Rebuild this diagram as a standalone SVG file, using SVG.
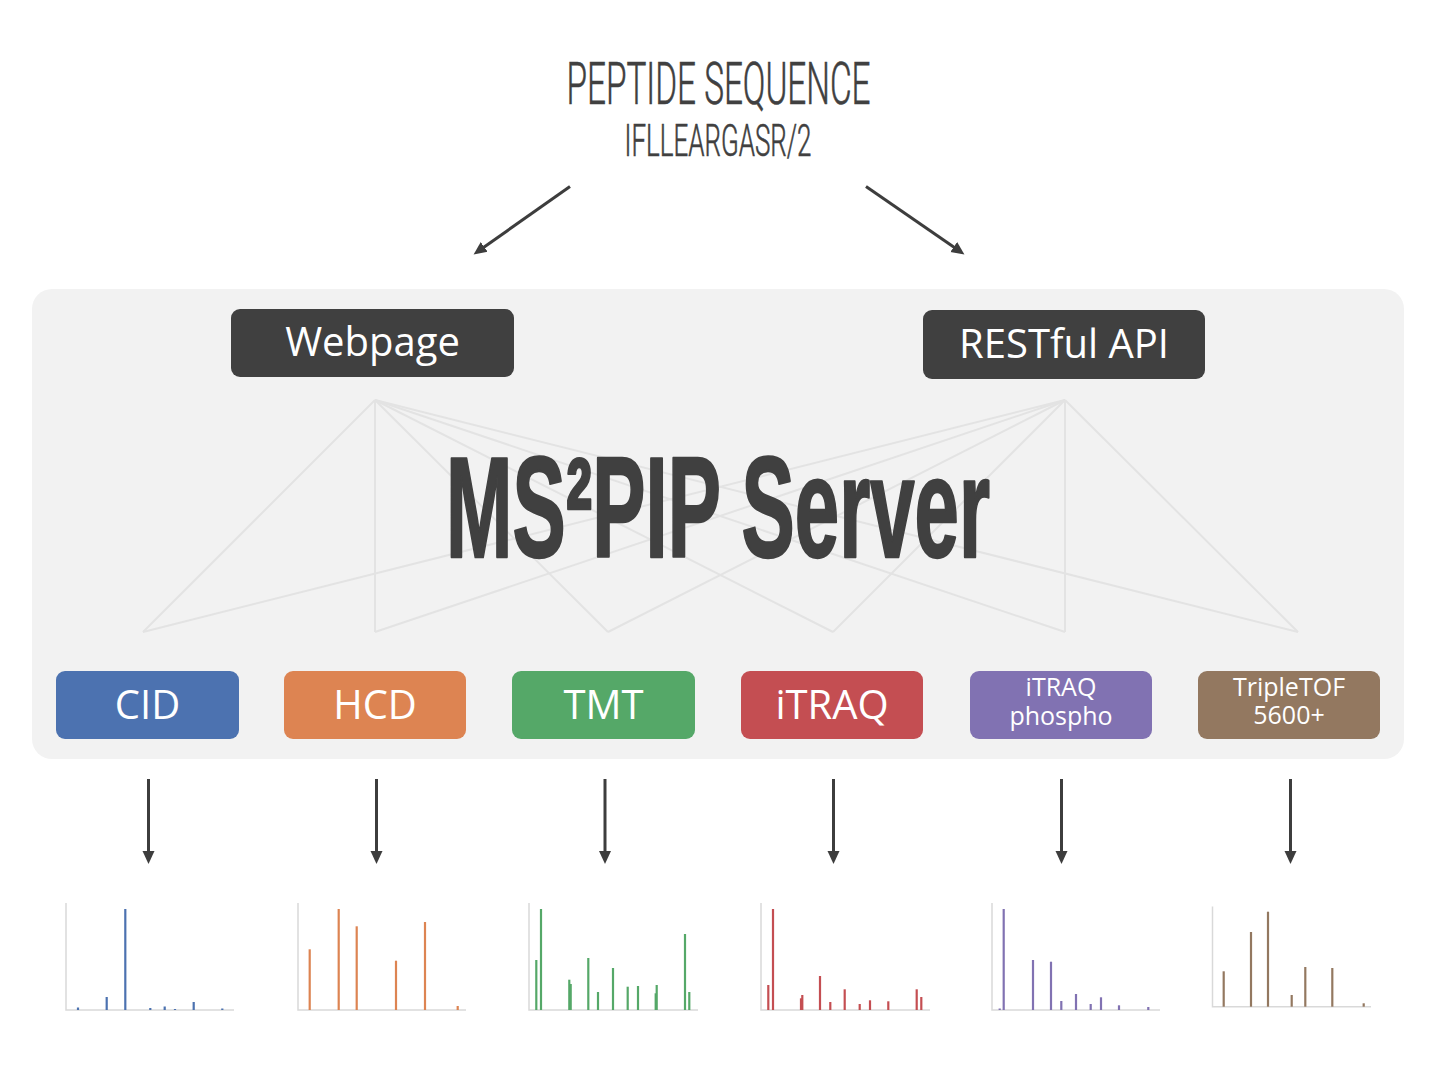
<svg xmlns="http://www.w3.org/2000/svg" width="1436" height="1079" viewBox="0 0 1436 1079">
  <style>
    .title { font-family: Roboto, "Liberation Sans", sans-serif; font-weight: 300; fill: #404040; stroke: #404040; stroke-width: 0.6; text-anchor: middle; }
    .server { font-family: "Liberation Sans", Arial, sans-serif; font-weight: 700; fill: #404040; stroke: #404040; stroke-width: 2.5; stroke-linejoin: round; text-anchor: middle; }
    .dark { fill: #404040; }
    .lbl { font-family: "Open Sans", "Liberation Sans", sans-serif; fill: #ffffff; text-anchor: middle; }
    .big { font-size: 40px; }
    .small { font-size: 25px; }
    .fan { stroke: #e3e3e3; stroke-width: 2; fill: none; }
    .arrow { stroke: #3d3d3d; stroke-width: 3; fill: none; marker-end: url(#head); }
    .axis { stroke: #d9d9d9; stroke-width: 1.5; fill: none; }
    .pk { stroke-width: 2.2; }
  </style>
  <defs>
    <marker id="head" markerUnits="userSpaceOnUse" markerWidth="14" markerHeight="14" viewBox="0 0 14 14" refX="7" refY="7" orient="auto">
      <path d="M0,1 L13,7 L0,13 z" fill="#3d3d3d"/>
    </marker>
  </defs>

  <rect id="panel" x="32" y="289" width="1372" height="470" rx="20" ry="20" fill="#f2f2f2"/>

  <g id="connectors">
    <g id="fan">
      <line class="fan" x1="375" y1="400" x2="143" y2="632"/>
      <line class="fan" x1="375" y1="400" x2="375" y2="632"/>
      <line class="fan" x1="375" y1="400" x2="608" y2="632"/>
      <line class="fan" x1="375" y1="400" x2="833" y2="632"/>
      <line class="fan" x1="375" y1="400" x2="1065" y2="632"/>
      <line class="fan" x1="375" y1="400" x2="1298" y2="632"/>
      <line class="fan" x1="1065" y1="400" x2="143" y2="632"/>
      <line class="fan" x1="1065" y1="400" x2="375" y2="632"/>
      <line class="fan" x1="1065" y1="400" x2="608" y2="632"/>
      <line class="fan" x1="1065" y1="400" x2="833" y2="632"/>
      <line class="fan" x1="1065" y1="400" x2="1065" y2="632"/>
      <line class="fan" x1="1065" y1="400" x2="1298" y2="632"/>
    </g>
    <line class="arrow" x1="570" y1="186.5" x2="478.5" y2="251"/>
    <line class="arrow" x1="866" y1="186.5" x2="959.5" y2="251"/>
    <line class="arrow" x1="148.5" y1="779" x2="148.5" y2="858"/>
    <line class="arrow" x1="376.5" y1="779" x2="376.5" y2="858"/>
    <line class="arrow" x1="605" y1="779" x2="605" y2="858"/>
    <line class="arrow" x1="833.5" y1="779" x2="833.5" y2="858"/>
    <line class="arrow" x1="1061.5" y1="779" x2="1061.5" y2="858"/>
    <line class="arrow" x1="1290.5" y1="779" x2="1290.5" y2="858"/>
  </g>

  <g id="title">
    <text class="title" x="718.5" y="103.5" font-size="60" textLength="304" lengthAdjust="spacingAndGlyphs">PEPTIDE SEQUENCE</text>
    <text class="title" x="718" y="155.5" font-size="45" textLength="187" lengthAdjust="spacingAndGlyphs">IFLLEARGASR/2</text>
  </g>

  <g id="server">
    <text class="server" x="718" y="557" font-size="142" textLength="544" lengthAdjust="spacingAndGlyphs">MS²PIP Server</text>
  </g>

  <g id="webpage">
    <rect class="dark" x="231" y="309" width="283" height="68" rx="9"/>
    <text class="lbl big" x="372.5" y="356">Webpage</text>
  </g>
  <g id="restful-api">
    <rect class="dark" x="923" y="310" width="282" height="69" rx="9"/>
    <text class="lbl big" x="1064" y="358">RESTful API</text>
  </g>

  <g id="cid">
    <rect x="56" y="671" width="183" height="68" rx="9" fill="#4c72b0"/>
    <text class="lbl big" x="147.5" y="719">CID</text>
  </g>
  <g id="hcd">
    <rect x="284" y="671" width="182" height="68" rx="9" fill="#dd8452"/>
    <text class="lbl big" x="375" y="719">HCD</text>
  </g>
  <g id="tmt">
    <rect x="512" y="671" width="183" height="68" rx="9" fill="#55a868"/>
    <text class="lbl big" x="603.5" y="719">TMT</text>
  </g>
  <g id="itraq">
    <rect x="741" y="671" width="182" height="68" rx="9" fill="#c44e52"/>
    <text class="lbl big" x="832" y="719">iTRAQ</text>
  </g>
  <g id="itraq-phospho">
    <rect x="970" y="671" width="182" height="68" rx="9" fill="#8172b2"/>
    <text class="lbl small"><tspan x="1061" y="696">iTRAQ</tspan><tspan x="1061" y="725">phospho</tspan></text>
  </g>
  <g id="tripletof">
    <rect x="1198" y="671" width="182" height="68" rx="9" fill="#937860"/>
    <text class="lbl small"><tspan x="1289" y="696">TripleTOF</tspan><tspan x="1289" y="724">5600+</tspan></text>
  </g>

  <g id="spectrum-cid" stroke="#4c72b0">
    <polyline class="axis" points="66,903 66,1010 234,1010"/>
    <line class="pk" x1="78" y1="1007.5" x2="78" y2="1010"/>
    <line class="pk" x1="106.7" y1="997" x2="106.7" y2="1010"/>
    <line class="pk" x1="125.3" y1="909" x2="125.3" y2="1010"/>
    <line class="pk" x1="150.3" y1="1008" x2="150.3" y2="1010"/>
    <line class="pk" x1="164.7" y1="1006.5" x2="164.7" y2="1010"/>
    <line class="pk" x1="175" y1="1009" x2="175" y2="1010"/>
    <line class="pk" x1="193.7" y1="1002" x2="193.7" y2="1010"/>
    <line class="pk" x1="222.3" y1="1008.5" x2="222.3" y2="1010"/>
  </g>
  <g id="spectrum-hcd" stroke="#dd8452">
    <polyline class="axis" points="298,903 298,1010 466,1010"/>
    <line class="pk" x1="309.7" y1="949.3" x2="309.7" y2="1010"/>
    <line class="pk" x1="338.7" y1="909" x2="338.7" y2="1010"/>
    <line class="pk" x1="356.7" y1="926.3" x2="356.7" y2="1010"/>
    <line class="pk" x1="396" y1="960.7" x2="396" y2="1010"/>
    <line class="pk" x1="425" y1="922" x2="425" y2="1010"/>
    <line class="pk" x1="457.7" y1="1006" x2="457.7" y2="1010"/>
  </g>
  <g id="spectrum-tmt" stroke="#55a868">
    <polyline class="axis" points="529,903 529,1010 698,1010"/>
    <line class="pk" x1="536.3" y1="960" x2="536.3" y2="1010"/>
    <line class="pk" x1="541" y1="909" x2="541" y2="1010"/>
    <line class="pk" x1="569.3" y1="979.7" x2="569.3" y2="1010"/>
    <line class="pk" x1="570.7" y1="984" x2="570.7" y2="1010"/>
    <line class="pk" x1="588.3" y1="958" x2="588.3" y2="1010"/>
    <line class="pk" x1="598" y1="992" x2="598" y2="1010"/>
    <line class="pk" x1="613" y1="968" x2="613" y2="1010"/>
    <line class="pk" x1="627.7" y1="986.7" x2="627.7" y2="1010"/>
    <line class="pk" x1="638" y1="986" x2="638" y2="1010"/>
    <line class="pk" x1="655.7" y1="993.3" x2="655.7" y2="1010"/>
    <line class="pk" x1="656.7" y1="985" x2="656.7" y2="1010"/>
    <line class="pk" x1="685" y1="934" x2="685" y2="1010"/>
    <line class="pk" x1="689.3" y1="992" x2="689.3" y2="1010"/>
  </g>
  <g id="spectrum-itraq" stroke="#c44e52">
    <polyline class="axis" points="761,903 761,1010 930,1010"/>
    <line class="pk" x1="768.3" y1="985" x2="768.3" y2="1010"/>
    <line class="pk" x1="773" y1="909" x2="773" y2="1010"/>
    <line class="pk" x1="801" y1="998.3" x2="801" y2="1010"/>
    <line class="pk" x1="802.3" y1="995" x2="802.3" y2="1010"/>
    <line class="pk" x1="820" y1="976" x2="820" y2="1010"/>
    <line class="pk" x1="830.3" y1="1002" x2="830.3" y2="1010"/>
    <line class="pk" x1="844.7" y1="989.3" x2="844.7" y2="1010"/>
    <line class="pk" x1="859.7" y1="1004" x2="859.7" y2="1010"/>
    <line class="pk" x1="870" y1="1000.3" x2="870" y2="1010"/>
    <line class="pk" x1="888.3" y1="1001.3" x2="888.3" y2="1010"/>
    <line class="pk" x1="916.7" y1="989.3" x2="916.7" y2="1010"/>
    <line class="pk" x1="921.3" y1="997" x2="921.3" y2="1010"/>
  </g>
  <g id="spectrum-itraq-phospho" stroke="#8172b2">
    <polyline class="axis" points="992,903 992,1010 1160,1010"/>
    <line class="pk" x1="999.7" y1="1008.5" x2="999.7" y2="1010"/>
    <line class="pk" x1="1003.7" y1="909" x2="1003.7" y2="1010"/>
    <line class="pk" x1="1033" y1="960" x2="1033" y2="1010"/>
    <line class="pk" x1="1051" y1="961.7" x2="1051" y2="1010"/>
    <line class="pk" x1="1061.3" y1="1001" x2="1061.3" y2="1010"/>
    <line class="pk" x1="1076" y1="994" x2="1076" y2="1010"/>
    <line class="pk" x1="1090.7" y1="1004" x2="1090.7" y2="1010"/>
    <line class="pk" x1="1101" y1="997.3" x2="1101" y2="1010"/>
    <line class="pk" x1="1119" y1="1005.3" x2="1119" y2="1010"/>
    <line class="pk" x1="1148.3" y1="1007" x2="1148.3" y2="1010"/>
  </g>
  <g id="spectrum-tripletof" stroke="#937860">
    <polyline class="axis" points="1212.5,906.5 1212.5,1006.7 1371,1006.7"/>
    <line class="pk" x1="1223.7" y1="971.3" x2="1223.7" y2="1006.7"/>
    <line class="pk" x1="1251" y1="932" x2="1251" y2="1006.7"/>
    <line class="pk" x1="1268" y1="911.7" x2="1268" y2="1006.7"/>
    <line class="pk" x1="1291.7" y1="995" x2="1291.7" y2="1006.7"/>
    <line class="pk" x1="1305.3" y1="967" x2="1305.3" y2="1006.7"/>
    <line class="pk" x1="1332.3" y1="968" x2="1332.3" y2="1006.7"/>
    <line class="pk" x1="1363.7" y1="1003.3" x2="1363.7" y2="1006.7"/>
  </g>
</svg>
